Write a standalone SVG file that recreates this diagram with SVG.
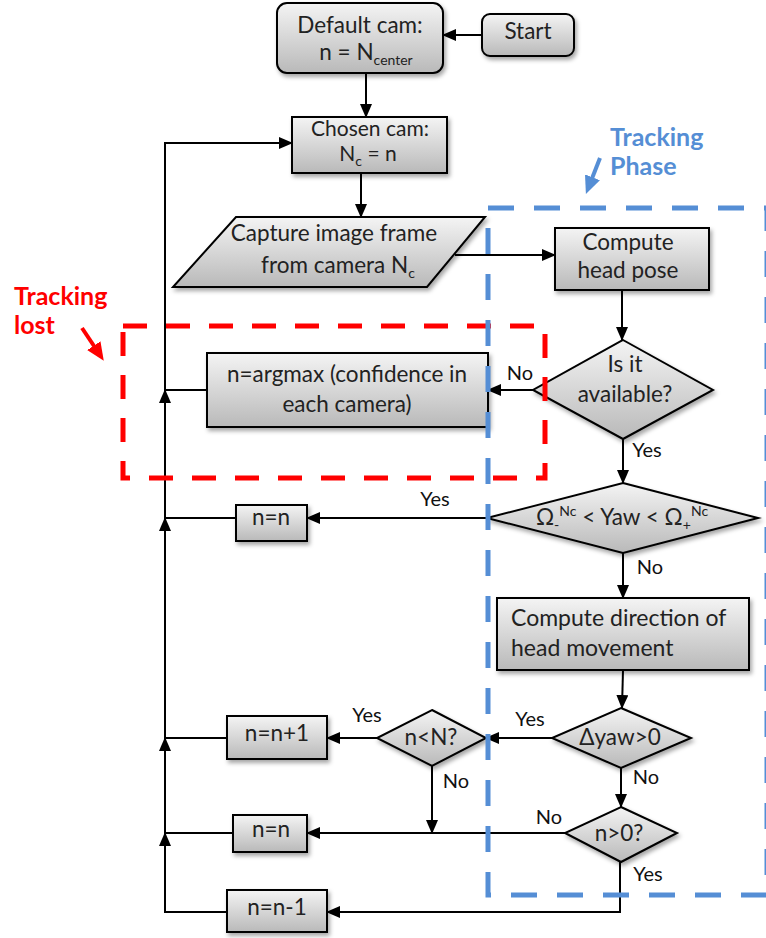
<svg xmlns="http://www.w3.org/2000/svg" width="766" height="938" viewBox="0 0 766 938">
<style>
.box{fill:url(#g);stroke:#000;stroke-width:2;filter:url(#sh)}
.t{font-family:Lato,"Liberation Sans",sans-serif;font-size:22.5px;fill:#222;text-anchor:middle}
.ts{font-family:Lato,"Liberation Sans",sans-serif;font-size:21px;fill:#222;text-anchor:middle}
.tl{font-family:Lato,"Liberation Sans",sans-serif;font-size:23px;fill:#222}
.lb{font-family:Lato,"Liberation Sans",sans-serif;font-size:20px;fill:#111;text-anchor:middle}
.ca{fill:none;stroke:#000;stroke-width:2;marker-end:url(#ah)}
.sub{font-size:14px}
.big{font-family:Lato,"Liberation Sans",sans-serif;font-size:25px;font-weight:bold}
</style>
<defs>
<linearGradient id="g" x1="0" y1="0" x2="0" y2="1">
<stop offset="0" stop-color="#f4f4f4"/>
<stop offset="1" stop-color="#b9b9b9"/>
</linearGradient>
<filter id="sh" x="-20%" y="-20%" width="140%" height="150%">
<feDropShadow dx="2" dy="3" stdDeviation="2" flood-color="#000" flood-opacity="0.35"/>
</filter>
<marker id="ah" markerUnits="userSpaceOnUse" markerWidth="14" markerHeight="12" refX="13" refY="6" orient="auto">
<path d="M0,0 L14,6 L0,12 Z" fill="#000"/>
</marker>
<marker id="ab" markerUnits="userSpaceOnUse" markerWidth="18" markerHeight="16" refX="4" refY="8" orient="auto">
<path d="M0,0 L18,8 L0,16 Z" fill="#558ED5"/>
</marker>
<marker id="ar" markerUnits="userSpaceOnUse" markerWidth="18" markerHeight="16" refX="4" refY="8" orient="auto">
<path d="M0,0 L18,8 L0,16 Z" fill="#ff0000"/>
</marker>
</defs>

<g id="connectors">
<path class="ca" d="M482,35 L443,35"/>
<path class="ca" d="M366,73 L366,117"/>
<path class="ca" d="M361,173 L361,217"/>
<path class="ca" d="M455,255 L555,255"/>
<path class="ca" d="M622,290 L622,340"/>
<path class="ca" d="M533,390 L488,390"/>
<path class="ca" d="M623,439 L623,483"/>
<path class="ca" d="M487,518 L307,518"/>
<path class="ca" d="M623,553 L623,598"/>
<path class="ca" d="M623,670 L622,708"/>
<path class="ca" d="M552,738 L486,738"/>
<path class="ca" d="M377,738 L327,738"/>
<path class="ca" d="M432,766 L432,833"/>
<path class="ca" d="M621,768 L621,807"/>
<path class="ca" d="M565,833 L307,833"/>
<path class="ca" d="M620,862 L620,912 L327,912"/>
<path class="ca" d="M227,912 L165,912 L165,833"/>
<path class="ca" d="M233,833 L165,833 L165,738"/>
<path class="ca" d="M227,738 L165,738 L165,518"/>
<path class="ca" d="M236,518 L165,518 L165,390"/>
<path class="ca" d="M207,390 L165,390 L165,143 L292,143"/>
</g>

<g id="start">
<rect class="box" x="482" y="14" width="92" height="42" rx="8"/>
<text class="t" x="528" y="39">Start</text>
</g>
<g id="default-cam">
<rect class="box" x="277" y="3" width="166" height="70" rx="10"/>
<text class="t" x="360" y="33">Default cam:</text>
<text class="t" x="366" y="60">n = N<tspan class="sub" dy="5">center</tspan></text>
</g>
<g id="chosen-cam">
<rect class="box" x="292" y="117" width="155" height="56"/>
<text class="ts" x="370" y="136">Chosen cam:</text>
<text class="ts" x="368" y="161">N<tspan class="sub" dy="5">c</tspan><tspan dy="-5"> = n</tspan></text>
</g>
<g id="capture">
<polygon class="box" points="236,217 485,217 427,287 173,287"/>
<text class="t" x="334" y="241">Capture image frame</text>
<text class="t" x="338" y="273">from camera N<tspan class="sub" dy="5">c</tspan></text>
</g>
<g id="head-pose">
<rect class="box" x="555" y="228" width="154" height="62"/>
<text class="t" x="628" y="250">Compute</text>
<text class="t" x="628" y="278">head pose</text>
</g>
<g id="available">
<polygon class="box" points="623,340 713,390 623,439 533,390"/>
<text class="t" x="625" y="372">Is it</text>
<text class="t" x="625" y="402">available?</text>
</g>
<g id="argmax">
<rect class="box" x="207" y="353" width="281" height="74"/>
<text class="t" x="347" y="382">n=argmax (confidence in</text>
<text class="t" x="347" y="412">each camera)</text>
</g>
<g id="yaw-range">
<polygon class="box" points="623,483 758,518 623,553 487,518"/>
<text class="t" x="622" y="525">Ω<tspan class="sub" dy="5">-</tspan><tspan class="sub" dy="-14">Nc</tspan><tspan dy="9"> &lt; Yaw &lt; Ω</tspan><tspan class="sub" dy="5">+</tspan><tspan class="sub" dy="-14">Nc</tspan></text>
</g>
<g id="n-eq-n-1">
<rect class="box" x="236" y="505" width="71" height="36"/>
<text class="t" x="271" y="525">n=n</text>
</g>
<g id="direction">
<rect class="box" x="497" y="598" width="252" height="72"/>
<text class="tl" x="511" y="626">Compute direction of</text>
<text class="tl" x="511" y="656">head movement</text>
</g>
<g id="dyaw">
<polygon class="box" points="621,708 691,738 621,768 552,738"/>
<text class="t" x="620" y="745">Δyaw&gt;0</text>
</g>
<g id="n-lt-N">
<polygon class="box" points="432,710 486,738 432,766 377,738"/>
<text class="t" x="431" y="745">n&lt;N?</text>
</g>
<g id="n-plus">
<rect class="box" x="227" y="716" width="100" height="43"/>
<text class="t" x="277" y="741">n=n+1</text>
</g>
<g id="n-gt-0">
<polygon class="box" points="621,807 677,833 621,862 565,833"/>
<text class="t" x="619" y="841">n&gt;0?</text>
</g>
<g id="n-eq-n-2">
<rect class="box" x="233" y="815" width="74" height="37"/>
<text class="t" x="271" y="837">n=n</text>
</g>
<g id="n-minus">
<rect class="box" x="227" y="890" width="100" height="42"/>
<text class="t" x="277" y="915">n=n-1</text>
</g>

<g id="labels">
<text class="lb" x="520" y="380">No</text>
<text class="lb" x="647" y="457">Yes</text>
<text class="lb" x="435" y="506">Yes</text>
<text class="lb" x="650" y="574">No</text>
<text class="lb" x="530" y="726">Yes</text>
<text class="lb" x="367" y="722">Yes</text>
<text class="lb" x="456" y="788">No</text>
<text class="lb" x="646" y="784">No</text>
<text class="lb" x="549" y="824">No</text>
<text class="lb" x="648" y="881">Yes</text>
</g>

<g id="tracking-lost">
<rect x="123" y="326" width="422" height="152" fill="none" stroke="#ff0000" stroke-width="5" stroke-dasharray="24 19"/>
<text class="big" x="14" y="305" fill="#ff0000">Tracking</text>
<text class="big" x="14" y="334" fill="#ff0000">lost</text>
<path d="M82,328 L96,349" stroke="#ff0000" stroke-width="4" fill="none" marker-end="url(#ar)"/>
</g>
<g id="tracking-phase">
<rect x="488" y="208" width="279" height="687" fill="none" stroke="#558ED5" stroke-width="5" stroke-dasharray="26 20"/>
<text class="big" x="610" y="146" fill="#558ED5">Tracking</text>
<text class="big" x="610" y="175" fill="#558ED5">Phase</text>
<path d="M600,158 L591,181" stroke="#558ED5" stroke-width="4" fill="none" marker-end="url(#ab)"/>
</g>
</svg>
